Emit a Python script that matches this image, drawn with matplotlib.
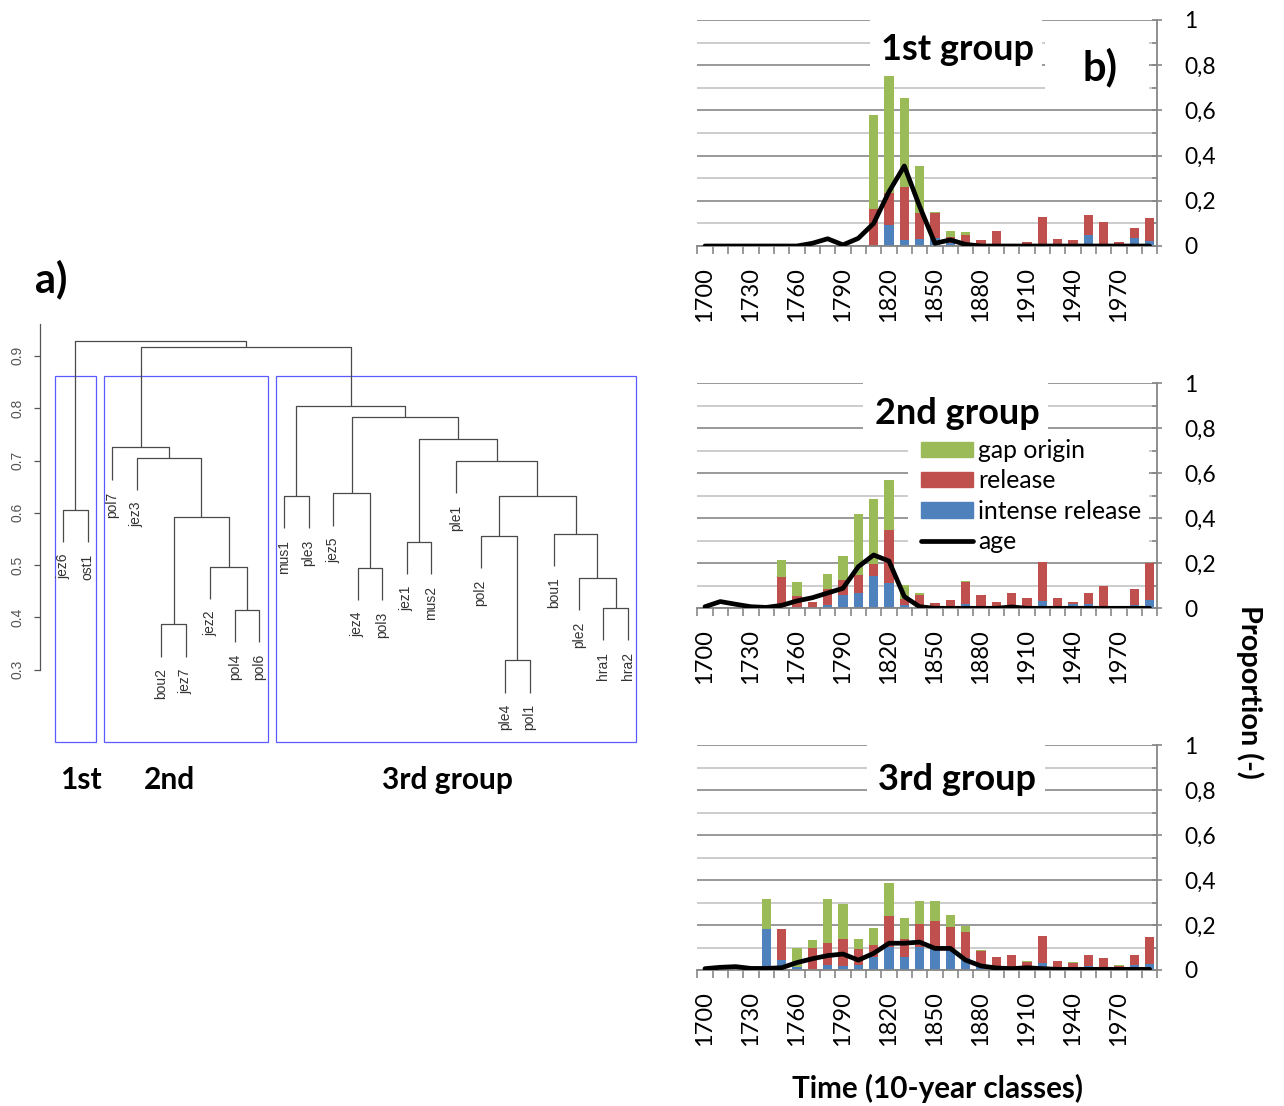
import numpy as np
import matplotlib
matplotlib.use('Agg')
import matplotlib.pyplot as plt
from matplotlib.patches import Rectangle, Patch
from matplotlib.lines import Line2D

plt.rcParams['font.family'] = ['Lato', 'DejaVu Sans']

# ---------------- data ----------------
years = [1700, 1710, 1720, 1730, 1740, 1750, 1760, 1770, 1780, 1790,
         1800, 1810, 1820, 1830, 1840, 1850, 1860, 1870, 1880, 1890,
         1900, 1910, 1920, 1930, 1940, 1950, 1960, 1970, 1980, 1990]

# group 1
intense1 = [0, 0, 0, 0, 0, 0, 0, 0, 0, 0, 0, 0, 0.093, 0.027, 0.030, 0.035, 0.012, 0, 0, 0,
            0, 0, 0, 0, 0, 0.047, 0, 0, 0.034, 0.024]
release1 = [0, 0, 0, 0, 0, 0, 0, 0, 0, 0, 0, 0.165, 0.140, 0.236, 0.115, 0.110, 0.029, 0.050, 0.027, 0.065,
            0, 0.016, 0.128, 0.031, 0.027, 0.092, 0.106, 0.016, 0.044, 0.098]
gap1 = [0, 0, 0, 0, 0, 0, 0, 0, 0, 0, 0, 0.415, 0.517, 0.390, 0.209, 0.005, 0.025, 0.013, 0, 0,
        0, 0, 0, 0, 0, 0, 0, 0, 0, 0]
age1 = [0, 0, 0, 0, 0, 0, 0, 0.012, 0.032, 0.005, 0.034, 0.100, 0.240, 0.354, 0.175, 0.012, 0.027, 0.007, 0, 0,
        0, 0, 0, 0, 0, 0, 0, 0, 0, 0]

# group 2
intense2 = [0, 0, 0, 0, 0, 0, 0, 0, 0.013, 0.058, 0.070, 0.142, 0.114, 0.015, 0, 0, 0, 0.020, 0, 0,
            0, 0, 0.034, 0, 0.019, 0.019, 0, 0, 0.013, 0.036]
release2 = [0, 0, 0, 0, 0, 0.141, 0.056, 0.027, 0.074, 0.068, 0.080, 0.053, 0.234, 0.025, 0.059, 0.022, 0.037, 0.099, 0.059, 0.027,
            0.067, 0.044, 0.170, 0.047, 0.011, 0.049, 0.098, 0, 0.073, 0.164]
gap2 = [0, 0, 0, 0, 0, 0.074, 0.061, 0, 0.066, 0.107, 0.269, 0.292, 0.222, 0.064, 0.011, 0, 0, 0.004, 0, 0,
        0, 0, 0, 0, 0, 0, 0, 0, 0, 0]
age2 = [0.007, 0.030, 0.018, 0.007, 0.004, 0.013, 0.033, 0.047, 0.068, 0.089, 0.185, 0.237, 0.210, 0.052, 0.007, 0, 0, 0, 0, 0,
        0.006, 0, 0, 0, 0, 0, 0, 0, 0, 0]

# group 3
intense3 = [0, 0, 0, 0, 0.181, 0.044, 0.015, 0, 0.021, 0.018, 0.021, 0.060, 0.104, 0.059, 0.104, 0.096, 0.089, 0.055, 0.022, 0,
            0, 0, 0.030, 0, 0, 0.016, 0, 0, 0.024, 0.028]
release3 = [0, 0, 0, 0, 0, 0.137, 0, 0.100, 0.100, 0.120, 0.071, 0.051, 0.135, 0.079, 0.102, 0.123, 0.101, 0.115, 0.061, 0.058,
            0.067, 0.036, 0.121, 0.040, 0.030, 0.052, 0.055, 0.019, 0.044, 0.120]
gap3 = [0, 0, 0, 0, 0.135, 0, 0.083, 0.033, 0.195, 0.154, 0.046, 0.074, 0.148, 0.095, 0.101, 0.086, 0.054, 0.026, 0.006, 0,
        0, 0.004, 0, 0, 0.004, 0, 0, 0.003, 0, 0]
age3 = [0.006, 0.012, 0.015, 0.007, 0.007, 0.010, 0.033, 0.050, 0.064, 0.071, 0.044, 0.074, 0.119, 0.119, 0.124, 0.096, 0.096, 0.044, 0.018, 0.009,
        0.006, 0.010, 0.006, 0.003, 0.003, 0.003, 0.003, 0.003, 0.003, 0.003]

group_titles = ['1st group', '2nd group', '3rd group']
y_tick_values = [0, 0.2, 0.4, 0.6, 0.8, 1.0]
y_tick_labels = ['0', '0,2', '0,4', '0,6', '0,8', '1']
series_labels = ['gap origin', 'release', 'intense release', 'age']

# dendrogram (R hclust style merge table; negative = leaf, positive = earlier merge)
leaf_labels = ['jez6', 'ost1', 'pol7', 'jez3', 'bou2', 'jez7', 'jez2', 'pol4', 'pol6',
               'mus1', 'ple3', 'jez5', 'jez4', 'pol3', 'jez1', 'mus2', 'ple1', 'pol2',
               'ple4', 'pol1', 'bou1', 'ple2', 'hra1', 'hra2']
merge_left = [-19, -5, -8, -23, -22, -13, -7, -15, -18, -21, 2, -1, 9, -10, -12, -17, -4, -3, 8, 15, 14, 18, 12]
merge_right = [-20, -6, -9, -24, 4, -14, 3, -16, 1, 5, 7, -2, 10, -11, 6, 13, 11, 17, 16, 19, 20, 21, 22]
merge_height = [0.318, 0.387, 0.415, 0.418, 0.476, 0.495, 0.497, 0.545, 0.556, 0.560, 0.592, 0.606,
                0.632, 0.632, 0.637, 0.700, 0.705, 0.725, 0.742, 0.784, 0.804, 0.917, 0.929]
dendro_ticks = [0.3, 0.4, 0.5, 0.6, 0.7, 0.8, 0.9]
cluster_names = ['1st', '2nd', '3rd group']

# ---------------- style ----------------
GREEN = '#9BBB59'
RED = '#C0504D'
BLUE = '#4F81BD'
GRID_MAJ = '#878787'
GRID_MIN = '#C3C3C3'
AXC = '#878787'

W, H = 1284, 1106
fig = plt.figure(figsize=(W / 100, H / 100), dpi=100)


def ax_px(left, top, right, bottom):
    return fig.add_axes([left / W, 1 - bottom / H, (right - left) / W, (bottom - top) / H])


# ---------------- b) bar charts ----------------
panels = [
    (20, 246, intense1, release1, gap1, age1),
    (383.3, 608.3, intense2, release2, gap2, age2),
    (745, 970, intense3, release3, gap3, age3),
]
title_boxes = [(10.76, 21.98), (10.3, 22.4), (10.56, 22.18)]
title_base = [0.823, 0.821, 0.800]

x = np.arange(len(years))
for k, (top, bot, inten, rel, gap, age) in enumerate(panels):
    ax = ax_px(697.3, top, 1157.3, bot)
    inten = np.array(inten)
    rel = np.array(rel)
    gap = np.array(gap)
    ax.bar(x, inten, width=0.6, color=BLUE, zorder=2, linewidth=0)
    ax.bar(x, rel, width=0.6, bottom=inten, color=RED, zorder=2, linewidth=0)
    ax.bar(x, gap, width=0.6, bottom=inten + rel, color=GREEN, zorder=2, linewidth=0)
    ax.plot(x, age, color='black', lw=3.4, zorder=4,
            solid_joinstyle='round', solid_capstyle='round')
    ax.set_xlim(-0.5, len(years) - 0.5)
    ax.set_ylim(0, 1)
    ax.set_axisbelow(True)
    for s in ['top', 'left']:
        ax.spines[s].set_visible(False)
    for s in ['right', 'bottom']:
        ax.spines[s].set_color(AXC)
        ax.spines[s].set_linewidth(1.3)
    # y axis (right)
    ax.yaxis.tick_right()
    ax.set_yticks(y_tick_values)
    ax.set_yticklabels(y_tick_labels)
    ax.set_yticks([0.1, 0.3, 0.5, 0.7, 0.9], minor=True)
    ax.tick_params(axis='y', which='major', direction='inout', length=7.5, width=1.2,
                   color=AXC, labelsize=16.5, pad=15.5, right=True, left=False)
    ax.tick_params(axis='y', which='minor', direction='in', length=3.8, width=1.2,
                   color=AXC, right=True, left=False)
    for lab in ax.get_yticklabels():
        lab.set_horizontalalignment('left')
    ax.grid(axis='y', which='major', color=GRID_MAJ, lw=1.2)
    ax.grid(axis='y', which='minor', color=GRID_MIN, lw=1.2)
    # x axis
    ax.set_xticks(x[::3])
    ax.set_xticklabels([str(y) for y in years[::3]], rotation=90)
    ax.set_xticks(np.arange(-0.5, len(years)), minor=True)
    ax.tick_params(axis='x', which='major', length=0, labelsize=17, pad=15)
    ax.tick_params(axis='x', which='minor', direction='out', length=6, width=1.2, color=AXC)
    # white title box
    x0, x1 = title_boxes[k]
    ax.add_patch(Rectangle((x0, 0.765), x1 - x0, 0.28, facecolor='white', edgecolor='none',
                           zorder=1.5, clip_on=False))
    ax.text(16.45, title_base[k], group_titles[k], ha='center', va='baseline',
            fontsize=26, fontweight='bold', zorder=5)
    if k == 0:
        ax.add_patch(Rectangle((22.18, 0.67), 28.94 - 22.18, 0.31, facecolor='white',
                               edgecolor='none', zorder=1.5))
        ax.text(25.77, 0.79, 'b)', ha='center', va='center', fontsize=30,
                fontweight='bold', zorder=5)
    if k == 1:
        ax.add_patch(Rectangle((13.24, 0.235), 28.94 - 13.24, 0.515, facecolor='white',
                               edgecolor='none', zorder=1.5))
        handles = [Patch(color=GREEN), Patch(color=RED), Patch(color=BLUE),
                   Line2D([0], [0], color='black', lw=3.4, solid_capstyle='round')]
        leg = ax.legend(handles, series_labels, loc='upper left',
                        bbox_to_anchor=(921 / W, 1 - 439 / H), bbox_transform=fig.transFigure,
                        frameon=False, fontsize=17.8, borderpad=0, borderaxespad=0,
                        handlelength=2.1, handleheight=0.59, handletextpad=0.2,
                        labelspacing=0.3)
        leg.set_zorder(6)

fig.text(1250 / W, 1 - 692 / H, 'Proportion (-)', rotation=-90, ha='center', va='center',
         fontsize=20.8, fontweight='bold')
fig.text(937 / W, 1 - 1088 / H, 'Time (10-year classes)', ha='center', va='center',
         fontsize=21.3, fontweight='bold')

# ---------------- a) dendrogram ----------------
LEAF0, LEAFD = 63.0, 24.56
def px_to_leaf(p):
    return (p - LEAF0) / LEAFD
def px_to_val(p):
    return 0.3 + (669.7 - p) / 523.0

axd = ax_px(40, 320, 660, 800)
axd.set_xlim(px_to_leaf(40), px_to_leaf(660))
axd.set_ylim(px_to_val(800), px_to_val(320))
for s in ['top', 'right', 'bottom']:
    axd.spines[s].set_visible(False)
axd.spines['left'].set_bounds(0.3, 0.961)
axd.spines['left'].set_color('#555555')
axd.spines['left'].set_linewidth(0.9)
axd.set_xticks([])
axd.set_yticks(dendro_ticks)
axd.set_yticklabels([f'{t:.1f}' for t in dendro_ticks], family=['Liberation Sans'],
                    color='#555555')
axd.tick_params(axis='y', length=4.5, width=0.9, color='#555555', labelsize=10,
                pad=7, labelrotation=90)
for lab in axd.get_yticklabels():
    lab.set_verticalalignment('center')

HANG = 0.062
LC = '#4a4a4a'
node_x = {}
for i, (a, b, h) in enumerate(zip(merge_left, merge_right, merge_height), start=1):
    ends = []
    for c in (a, b):
        if c < 0:
            cx = -c - 1
            cy = h - HANG
            axd.text(cx, cy - 0.022, leaf_labels[cx], rotation=90, ha='center', va='top',
                     fontsize=10, family=['Liberation Sans'], color='#333333')
        else:
            cx, cy = node_x[c]
        ends.append((cx, cy))
    (xa, ya), (xb, yb) = ends
    axd.plot([xa, xa, xb, xb], [ya, h, h, yb], color=LC, lw=0.9, solid_capstyle='butt')
    node_x[i] = ((xa + xb) / 2, h)

box_ranges = [(-0.34, 1.33), (1.68, 8.33), (8.67, 23.35)]
for x0, x1 in box_ranges:
    axd.add_patch(Rectangle((x0, 0.161), x1 - x0, 0.862 - 0.161, facecolor='none',
                            edgecolor='#5a5aff', lw=0.9))

fig.text(51 / W, 1 - 279 / H, 'a)', ha='center', va='center', fontsize=30, fontweight='bold')
name_x = [81, 170, 447]
for nm, px in zip(cluster_names, name_x):
    fig.text(px / W, 1 - 780 / H, nm, ha='center', va='center', fontsize=21.5, fontweight='bold')

fig.savefig('out.png', dpi=100, facecolor='white')
